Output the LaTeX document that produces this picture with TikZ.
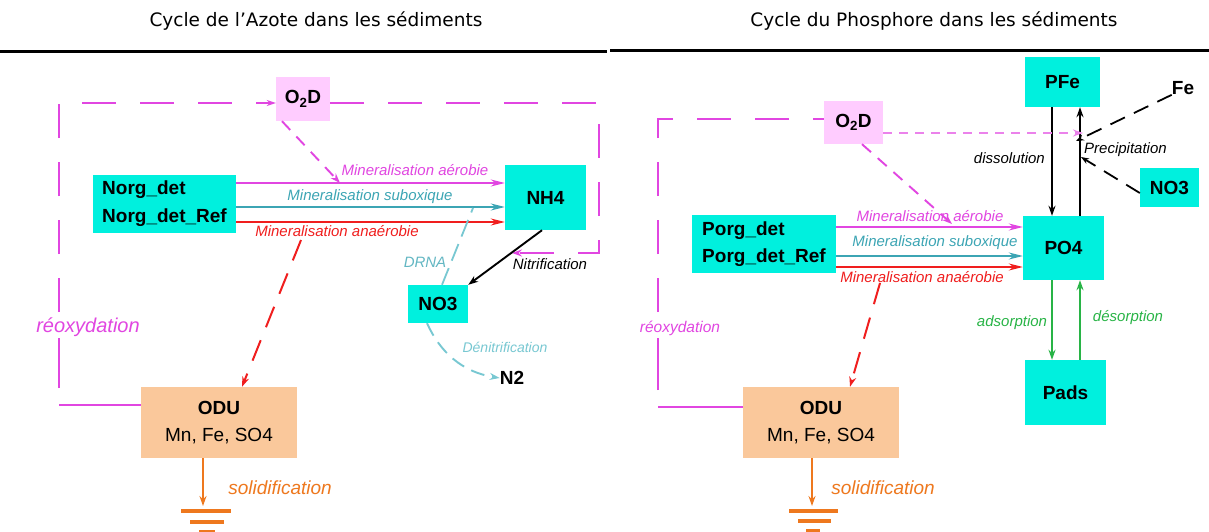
\documentclass[tikz,border=0pt]{standalone}
\usepackage{fontspec}
\setmainfont{Liberation Sans}
\newfontfamily\titlefont{DejaVu Sans}
\usetikzlibrary{arrows.meta,calc}
\definecolor{cyanc}{RGB}{0,240,222}
\definecolor{pinkc}{RGB}{255,204,255}
\definecolor{peachc}{RGB}{250,200,155}
\definecolor{magc}{RGB}{225,70,225}
\definecolor{magl}{RGB}{235,130,235}
\definecolor{tealc}{RGB}{60,165,180}
\definecolor{tealL}{RGB}{120,200,210}
\definecolor{redc}{RGB}{240,30,30}
\definecolor{orangec}{RGB}{238,120,30}
\definecolor{greenc}{RGB}{40,180,70}
\tikzset{
  bx/.style={inner sep=0pt, font=\fontsize{19}{22}\selectfont\bfseries},
  cbox/.style={bx, fill=cyanc},
  lab/.style={inner sep=0pt, font=\fontsize{15}{17}\selectfont\itshape},
  arr/.style={line width=2pt, -{Stealth[length=14pt,width=7pt]}},
  sarr/.style={line width=1.9pt, -{Stealth[length=10pt,width=7pt]}},
  loopsolid/.style={draw=magc, line width=1.9pt},
  loopst/.style={draw=magc, line width=1.9pt, dash pattern=on 34pt off 24pt},
  gnd/.style={draw=orangec, line width=4pt},
  ttl/.style={inner sep=0pt, font=\titlefont\fontsize{18.5}{22}\selectfont}
}
\begin{document}
\begin{tikzpicture}[x=1pt,y=-1pt]
\useasboundingbox[fill=white] (0,0) rectangle (1209,532);

% titles
\node[ttl] (t1) at (316,21) {Cycle de l’Azote dans les sédiments};
\node[ttl] (t2) at (934,21) {Cycle du Phosphore dans les sédiments};
\draw[line width=3pt] (0,52) -- (607,52);
\draw[line width=3pt] (610,51) -- (1209,51);

% ================= LEFT PANEL =================
\node[bx, fill=pinkc, minimum width=54pt, minimum height=44pt] (o2dL) at (303,99) {O\textsubscript{2}D};
\node[cbox, minimum width=143pt, minimum height=58pt, align=left, font=\fontsize{19}{28}\selectfont\bfseries] (norgL) at (164.5,204) {Norg\_det\\Norg\_det\_Ref};
\node[cbox, minimum width=81pt, minimum height=65pt] (nh4L) at (545.5,197.5) {NH4};
\node[cbox, minimum width=60pt, minimum height=38pt] (no3L) at (438,304) {NO3};
\node[bx] (n2L) at (512,378) {N2};
\node[inner sep=0pt, fill=peachc, minimum width=156pt, minimum height=71pt, align=center, font=\fontsize{19}{27}\selectfont] (oduL) at (219,422.5) {\textbf{ODU}\\Mn, Fe, SO4};

\coordinate (loopEndL) at (512,253);
\coordinate (aerL) at (340,183);
\coordinate (drnaL) at (473,208);
\coordinate (anaL) at (301,240);
\coordinate (gL) at (203,506);
\coordinate (cBL) at (59,405);
\coordinate (v1L) at (59,388);
\coordinate (v2L) at (59,338);
\coordinate (v3L) at (59,312);

% reoxydation loop
\draw[loopsolid] (oduL.west |- cBL) -- (cBL);
\draw[loopsolid] (v1L) -- (v2L);
\draw[loopst, -{Stealth[length=9pt,width=6pt]}] (v3L) -- (59,103) -- (o2dL.west |- 0,103);
\draw[loopst, -{Stealth[length=10pt,width=7pt]}] (o2dL.east |- 0,103) -- (599,103) -- (599,253) -- (loopEndL);
\node[inner sep=2pt, text=magc, font=\fontsize{20}{22}\selectfont\itshape] (reoxL) at (88,327) {réoxydation};

% mineralisation arrows
\draw[arr, magc] (norgL.east |- 0,183) -- (nh4L.west |- 0,183);
\draw[arr, tealc] (norgL.east |- 0,207) -- (nh4L.west |- 0,207);
\draw[arr, redc] (norgL.east |- 0,222) -- (nh4L.west |- 0,222);
\node[lab, text=magc] (laerL) at (415,170) {Mineralisation aérobie};
\node[lab, text=tealc] (lsubL) at (370,197) {Mineralisation suboxique};
\node[lab, text=redc] (lanaL) at (337,231) {Mineralisation anaérobie};

% O2D -> aerobie
\draw[sarr, magc, dash pattern=on 12pt off 9pt] (o2dL.south -| 282,0) -- (aerL);

% nitrification
\draw[sarr, black] (nh4L.south -| 542,0) -- (no3L.north east);
\node[lab] (lnitL) at (550,264) {Nitrification};

% DRNA
\draw[line width=1.8pt, tealL, dash pattern=on 18pt off 8pt] (no3L.north -| 442,0) -- (drnaL);
\node[lab, text=tealc!80] (ldrnaL) at (425,262) {DRNA};

% denitrification
\draw[sarr, tealL, dash pattern=on 14pt off 8pt] (no3L.south -| 427,0) .. controls (440,352) and (462,372) .. (n2L.west);
\node[lab, text=tealL, font=\fontsize{14}{16}\selectfont\itshape] (ldenL) at (505,347) {Dénitrification};

% anaerobie -> ODU
\draw[sarr, redc, line width=2pt, dash pattern=on 22pt off 14pt] (anaL) -- (oduL.north -| 242,0);

% solidification
\draw[sarr, orangec] (oduL.south -| 203,0) -- (gL);
\draw[gnd] (181,511) -- (231,511);
\draw[gnd] (190,522) -- (224,522);
\draw[gnd] (199,532) -- (215,532);
\node[inner sep=0pt, text=orangec, font=\fontsize{19}{22}\selectfont\itshape] (lsolL) at (280,488) {solidification};

% ================= RIGHT PANEL =================
\node[bx, fill=pinkc, minimum width=59pt, minimum height=43pt] (o2dR) at (853.5,122.5) {O\textsubscript{2}D};
\node[cbox, minimum width=75pt, minimum height=50pt] (pfe) at (1062.5,82) {PFe};
\node[bx] (fe) at (1183,88) {Fe};
\node[cbox, minimum width=59pt, minimum height=39pt] (no3R) at (1169.5,187.5) {NO3};
\node[cbox, minimum width=144pt, minimum height=58pt, align=left, font=\fontsize{19}{27}\selectfont\bfseries] (porg) at (764,244) {Porg\_det\\Porg\_det\_Ref};
\node[cbox, minimum width=81pt, minimum height=64pt] (po4) at (1063.5,248) {PO4};
\node[cbox, minimum width=81pt, minimum height=65pt] (pads) at (1065.5,392.5) {Pads};
\node[inner sep=0pt, fill=peachc, minimum width=156pt, minimum height=71pt, align=center, font=\fontsize{19}{27}\selectfont] (oduR) at (821,422.5) {\textbf{ODU}\\Mn, Fe, SO4};

\coordinate (aerR) at (952,224);
\coordinate (anaR) at (880,283);
\coordinate (precR) at (1083,133);
\coordinate (feEnd) at (1076,141);
\coordinate (noEnd) at (1081,157);
\coordinate (gR) at (812,506);
\coordinate (cBR) at (658,407);
\coordinate (v1R) at (658,390);
\coordinate (v2R) at (658,338);
\coordinate (v3R) at (658,312);

% reoxydation loop
\draw[loopsolid] (oduR.west |- cBR) -- (cBR);
\draw[loopsolid] (v1R) -- (v2R);
\draw[loopst] (v3R) -- (658,119) -- (o2dR.west |- 0,119);
\node[inner sep=2pt, text=magc, font=\fontsize{15.5}{17}\selectfont\itshape] (reoxR) at (680,328) {réoxydation};

% mineralisation arrows
\draw[arr, magc] (porg.east |- 0,227) -- (po4.west |- 0,227);
\draw[arr, tealc] (porg.east |- 0,256) -- (po4.west |- 0,256);
\draw[arr, redc] (porg.east |- 0,267) -- (po4.west |- 0,267);
\node[lab, text=magc] (laerR) at (930,216) {Mineralisation aérobie};
\node[lab, text=tealc] (lsubR) at (935,243) {Mineralisation suboxique};
\node[lab, text=redc] (lanaR) at (922,277) {Mineralisation anaérobie};

% O2D -> aerobie
\draw[sarr, magc, dash pattern=on 12pt off 9pt] (o2dR.south -| 862,0) -- (aerR);

% anaerobie -> ODU
\draw[sarr, redc, line width=2pt, dash pattern=on 22pt off 14pt] (anaR) -- (oduR.north -| 850,0);

% PFe <-> PO4
\draw[sarr, black] (pfe.south -| 1052,0) -- (po4.north -| 1052,0);
\draw[sarr, black] (po4.north -| 1080,0) -- (pfe.south -| 1080,0);
\node[lab, anchor=east] (ldis) at (1045,158) {dissolution};
\node[lab, anchor=west] (lpre) at (1084,150) {Precipitation};

% O2D -> precipitation
\draw[sarr, magl, line width=2pt, dash pattern=on 9pt off 7pt] (o2dR.east |- 0,133) -- (precR);
% Fe, NO3 -> precipitation
\draw[line width=1.8pt, black, dash pattern=on 16pt off 10pt, -{Stealth[length=8pt,width=6pt]}] (fe.south west) -- (feEnd);
\draw[line width=1.8pt, black, dash pattern=on 16pt off 10pt, -{Stealth[length=8pt,width=6pt]}] (no3R.west |- 0,193) -- (noEnd);

% PO4 <-> Pads
\draw[sarr, greenc] (po4.south -| 1052,0) -- (pads.north -| 1052,0);
\draw[sarr, greenc] (pads.north -| 1080,0) -- (po4.south -| 1080,0);
\node[lab, text=greenc] (lads) at (1012,323) {adsorption};
\node[lab, text=greenc] (ldes) at (1128,318) {désorption};

% solidification
\draw[sarr, orangec] (oduR.south -| 812,0) -- (gR);
\draw[gnd] (789,511) -- (838,511);
\draw[gnd] (798,521) -- (831,521);
\draw[gnd] (806,531) -- (820,531);
\node[inner sep=0pt, text=orangec, font=\fontsize{19}{22}\selectfont\itshape] (lsolR) at (883,488) {solidification};
\end{tikzpicture}
\end{document}
